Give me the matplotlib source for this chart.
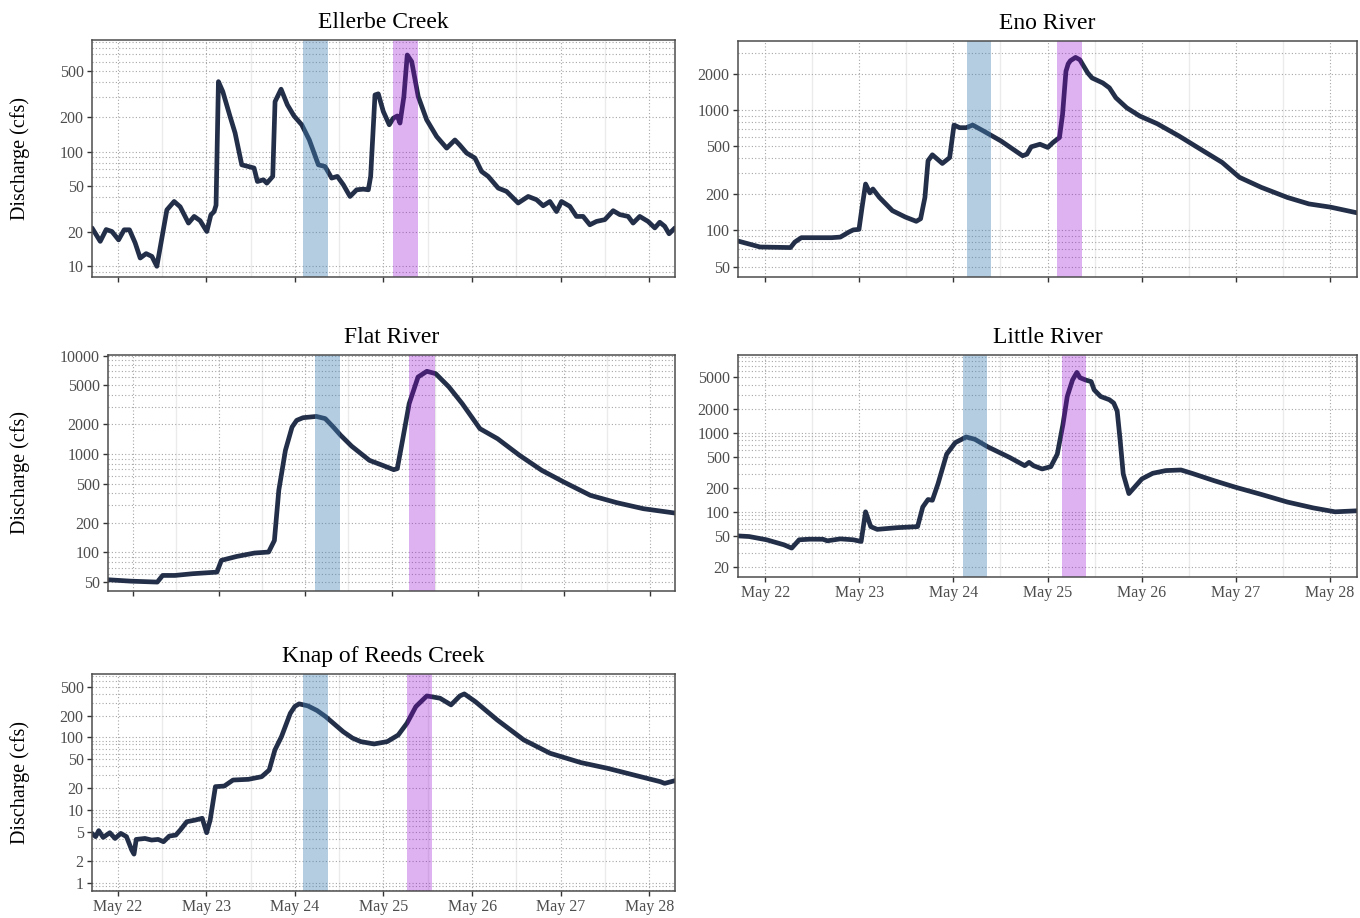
import matplotlib.pyplot as plt
from matplotlib.ticker import LogLocator, FixedLocator, FuncFormatter, NullFormatter

plt.rcParams['font.family'] = ['Liberation Serif', 'DejaVu Serif']

# time axis: days since May 22 00:00
day_ticks = [0, 1, 2, 3, 4, 5, 6]
day_labels = ['May 22', 'May 23', 'May 24', 'May 25', 'May 26', 'May 27', 'May 28']

# discharge records (cfs)
ellerbe_t = [-0.29, -0.197, -0.13, -0.065, 0.01, 0.073, 0.133, 0.197, 0.254, 0.321, 0.386, 0.442,
             0.555, 0.637, 0.705, 0.799, 0.863, 0.93, 1.006, 1.051, 1.088, 1.11, 1.137, 1.186,
             1.269, 1.325, 1.40, 1.475, 1.539, 1.577, 1.645, 1.683, 1.75, 1.776, 1.844, 1.915,
             1.99, 2.077, 2.163, 2.265, 2.34, 2.415, 2.479, 2.547, 2.622, 2.697, 2.772, 2.829,
             2.855, 2.904, 2.941, 2.998, 3.065, 3.11, 3.156, 3.186, 3.23, 3.268, 3.318, 3.392,
             3.487, 3.6, 3.713, 3.806, 3.86, 3.938, 4.032, 4.107, 4.182, 4.295, 4.389, 4.52,
             4.633, 4.728, 4.802, 4.878, 4.953, 5.009, 5.103, 5.178, 5.253, 5.329, 5.404, 5.498,
             5.592, 5.667, 5.761, 5.817, 5.892, 5.986, 6.062, 6.118, 6.174, 6.223, 6.29]
ellerbe_q = [21.6, 16.5, 20.9, 20.1, 17, 20.8, 20.8, 16, 11.8, 12.9, 12.2, 10,
             31, 36.7, 33, 23.8, 27.2, 25, 20.1, 28, 30, 34, 406, 333,
             201, 145, 76.6, 74, 71.8, 54.8, 56.7, 53, 60.7, 272, 349, 255,
             204, 171, 126, 76.6, 74, 58.7, 60.7, 51.3, 40.6, 46.4, 47, 46.4,
             60.7, 311, 318, 223, 171, 195, 204, 177, 301, 693, 607, 301,
             189, 135, 107, 126, 114, 97, 87.7, 67, 60.7, 48, 44.9, 35.6,
             40.6, 38, 33.7, 36.7, 30, 36.7, 33.3, 27.2, 27.2, 23, 24.6, 25.5,
             30.5, 28.2, 27.2, 23.8, 27.2, 24.6, 21.6, 24.2, 22.3, 19.2, 21.6]

eno_t = [-0.29, -0.055, 0.268, 0.314, 0.383, 0.706, 0.798, 0.89, 0.936, 0.996, 1.029, 1.066,
         1.112, 1.144, 1.213, 1.351, 1.49, 1.605, 1.651, 1.697, 1.73, 1.776, 1.882, 1.96,
         2.006, 2.066, 2.136, 2.205, 2.32, 2.505, 2.735, 2.781, 2.827, 2.92, 3.003, 3.058,
         3.127, 3.16, 3.196, 3.22, 3.243, 3.298, 3.344, 3.427, 3.473, 3.588, 3.658, 3.727,
         3.842, 3.981, 4.165, 4.396, 4.626, 4.857, 5.041, 5.272, 5.549, 5.779, 6.01, 6.29]
eno_q = [81.6, 72.8, 72, 80, 87, 87, 88, 97, 101, 102, 156, 243,
         205, 221, 188, 146, 129, 119, 125, 188, 379, 425, 360, 403,
         751, 714, 714, 751, 670, 554, 417, 430, 495, 520, 489, 537,
         591, 920, 2100, 2420, 2570, 2740, 2620, 2040, 1850, 1680, 1530, 1265,
         1045, 892, 771, 610, 473, 367, 276, 228, 188, 166, 156, 140]

flat_t = [-0.29, -0.026, 0.282, 0.344, 0.487, 0.692, 0.974, 1.026, 1.205, 1.41, 1.574, 1.641,
          1.692, 1.769, 1.846, 1.90, 1.974, 2.128, 2.231, 2.32, 2.41, 2.538, 2.744, 2.897,
          3.026, 3.067, 3.128, 3.205, 3.308, 3.41, 3.513, 3.667, 3.821, 4.026, 4.231, 4.487,
          4.744, 5.0, 5.308, 5.615, 5.923, 6.29]
flat_q = [52.7, 51, 49.9, 58.3, 58.3, 60.7, 63, 83, 91, 98.5, 100.8, 132,
          427, 1090, 1880, 2200, 2340, 2410, 2290, 1900, 1550, 1200, 862, 767,
          693, 710, 1377, 3250, 6060, 6930, 6560, 4800, 3250, 1810, 1430, 968,
          682, 519, 380, 320, 278, 251]

little_t = [-0.29, -0.171, 0.014, 0.198, 0.281, 0.36, 0.475, 0.613, 0.66, 0.798, 0.936, 1.019,
            1.066, 1.121, 1.19, 1.398, 1.619, 1.674, 1.73, 1.776, 1.836, 1.928, 2.02, 2.136,
            2.228, 2.366, 2.597, 2.758, 2.804, 2.851, 2.943, 3.035, 3.104, 3.164, 3.21, 3.266,
            3.312, 3.344, 3.404, 3.464, 3.496, 3.565, 3.658, 3.704, 3.741, 3.773, 3.805, 3.865,
            3.911, 4.004, 4.119, 4.257, 4.419, 4.534, 4.765, 4.995, 5.272, 5.549, 5.826, 6.057,
            6.29]
little_q = [49.6, 48.7, 44.3, 38.3, 34.8, 44.3, 45.1, 45, 43, 45.5, 44.3, 42.2,
            100, 65, 60, 63, 65, 115, 143, 140, 226, 536, 750, 883,
            826, 662, 487, 383, 422, 383, 348, 372, 536, 1270, 2870, 4640,
            5780, 4970, 4640, 4430, 3480, 2870, 2610, 2370, 1870, 787, 301, 170,
            196, 261, 307, 332, 338, 307, 249, 205, 166, 133, 112, 100,
            103]

knap_t = [-0.29, -0.249, -0.214, -0.164, -0.089, -0.03, 0.035, 0.099, 0.159, 0.184, 0.209, 0.308,
          0.383, 0.457, 0.517, 0.582, 0.656, 0.706, 0.78, 0.88, 0.954, 1.004, 1.044, 1.103,
          1.203, 1.302, 1.476, 1.625, 1.71, 1.774, 1.849, 1.948, 2.0, 2.048, 2.147, 2.25,
          2.346, 2.545, 2.65, 2.744, 2.893, 3.042, 3.166, 3.265, 3.365, 3.489, 3.638, 3.762,
          3.862, 3.912, 4.036, 4.284, 4.583, 4.881, 5.229, 5.527, 5.825, 6.123, 6.173, 6.29]
knap_q = [4.77, 4.3, 5.2, 4.2, 4.87, 4.06, 4.77, 4.3, 2.8, 2.47, 3.94, 4.06,
          3.86, 3.94, 3.66, 4.38, 4.52, 5.3, 6.9, 7.3, 7.7, 4.87, 7.3, 21,
          21.4, 25.9, 26.5, 28.8, 35.6, 67, 103, 215, 268, 290, 272, 235,
          194, 120, 98, 87.6, 81.3, 87.6, 108, 157, 266, 373, 347, 281,
          373, 398, 312, 174, 92.5, 60.5, 45, 37.6, 30.4, 24.6, 23.3, 25.4]

sites = ['Ellerbe Creek', 'Eno River', 'Flat River', 'Little River', 'Knap of Reeds Creek']
series_t = [ellerbe_t, eno_t, flat_t, little_t, knap_t]
series_q = [ellerbe_q, eno_q, flat_q, little_q, knap_q]

# sampling windows (days since May 22)
first_start = [2.09, 2.14, 2.11, 2.10, 2.09]
first_end = [2.37, 2.40, 2.40, 2.36, 2.37]
second_start = [3.11, 3.10, 3.20, 3.15, 3.27]
second_end = [3.39, 3.37, 3.50, 3.41, 3.55]

y_limits = [(8.07, 936), (41, 3750), (40.5, 10150), (15.0, 9600), (0.767, 748)]

# panel boxes in pixels: left, top, right, bottom
W, H = 1360, 918
boxes = [(92, 40, 675, 277), (738, 41, 1357, 277), (108, 355, 675, 591),
         (738, 355, 1357, 577), (92, 674, 675, 891)]
show_dates = [False, False, False, True, True]
show_ylabel = [True, False, True, False, True]

line_color = '#232f48'
grid_kw = dict(color='#a6a6a6', linestyle=(0, (1, 2)), linewidth=0.8)

fig = plt.figure(figsize=(W / 100, H / 100), dpi=100)

for i, name in enumerate(sites):
    l, t, r, b = boxes[i]
    ax = fig.add_axes([l / W, 1 - b / H, (r - l) / W, (b - t) / H])
    ax.set_yscale('log')
    ax.plot(series_t[i], series_q[i], color=line_color, lw=3.4,
            solid_joinstyle='round', solid_capstyle='round', zorder=3)
    ax.axvspan(first_start[i], first_end[i], color='steelblue', alpha=0.4, lw=0, zorder=4)
    ax.axvspan(second_start[i], second_end[i], color='darkviolet', alpha=0.3, lw=0, zorder=4)

    ax.set_xlim(-0.29, 6.29)
    ax.set_ylim(*y_limits[i])

    ax.xaxis.set_major_locator(FixedLocator(day_ticks))
    ax.xaxis.set_minor_locator(FixedLocator([d + 0.5 for d in range(-1, 7)]))
    if show_dates[i]:
        ax.set_xticklabels(day_labels)
    else:
        ax.set_xticklabels([])
    ax.yaxis.set_major_locator(LogLocator(base=10, subs=(1, 2, 5)))
    ax.yaxis.set_minor_locator(LogLocator(base=10, subs=(3, 4, 6, 7, 8, 9)))
    ax.yaxis.set_major_formatter(FuncFormatter(lambda v, p: f'{v:g}'))
    ax.yaxis.set_minor_formatter(NullFormatter())

    ax.grid(True, which='major', axis='both', **grid_kw)
    ax.grid(True, which='minor', axis='y', **grid_kw)
    ax.grid(True, which='minor', axis='x', color='#ebebeb', linestyle='-', linewidth=1.0)
    ax.set_axisbelow(True)

    ax.tick_params(which='major', length=3.5, width=1.0, color='#333333',
                   labelcolor='#4d4d4d', labelsize=11.5, pad=2.5)
    ax.tick_params(which='minor', length=0)
    for s in ax.spines.values():
        s.set_color('#4d4d4d')
        s.set_linewidth(1.1)
        s.set_zorder(5)

    fig.text((l + r) / 2 / W, 1 - (t - 12) / H, name, ha='center', va='baseline',
             fontsize=17, color='black')
    if show_ylabel[i]:
        fig.text(20 / W, 1 - (t + b) / 2 / H, 'Discharge (cfs)', rotation=90,
                 ha='center', va='center', fontsize=14.5, color='black')

fig.savefig('out.png', dpi=100)
